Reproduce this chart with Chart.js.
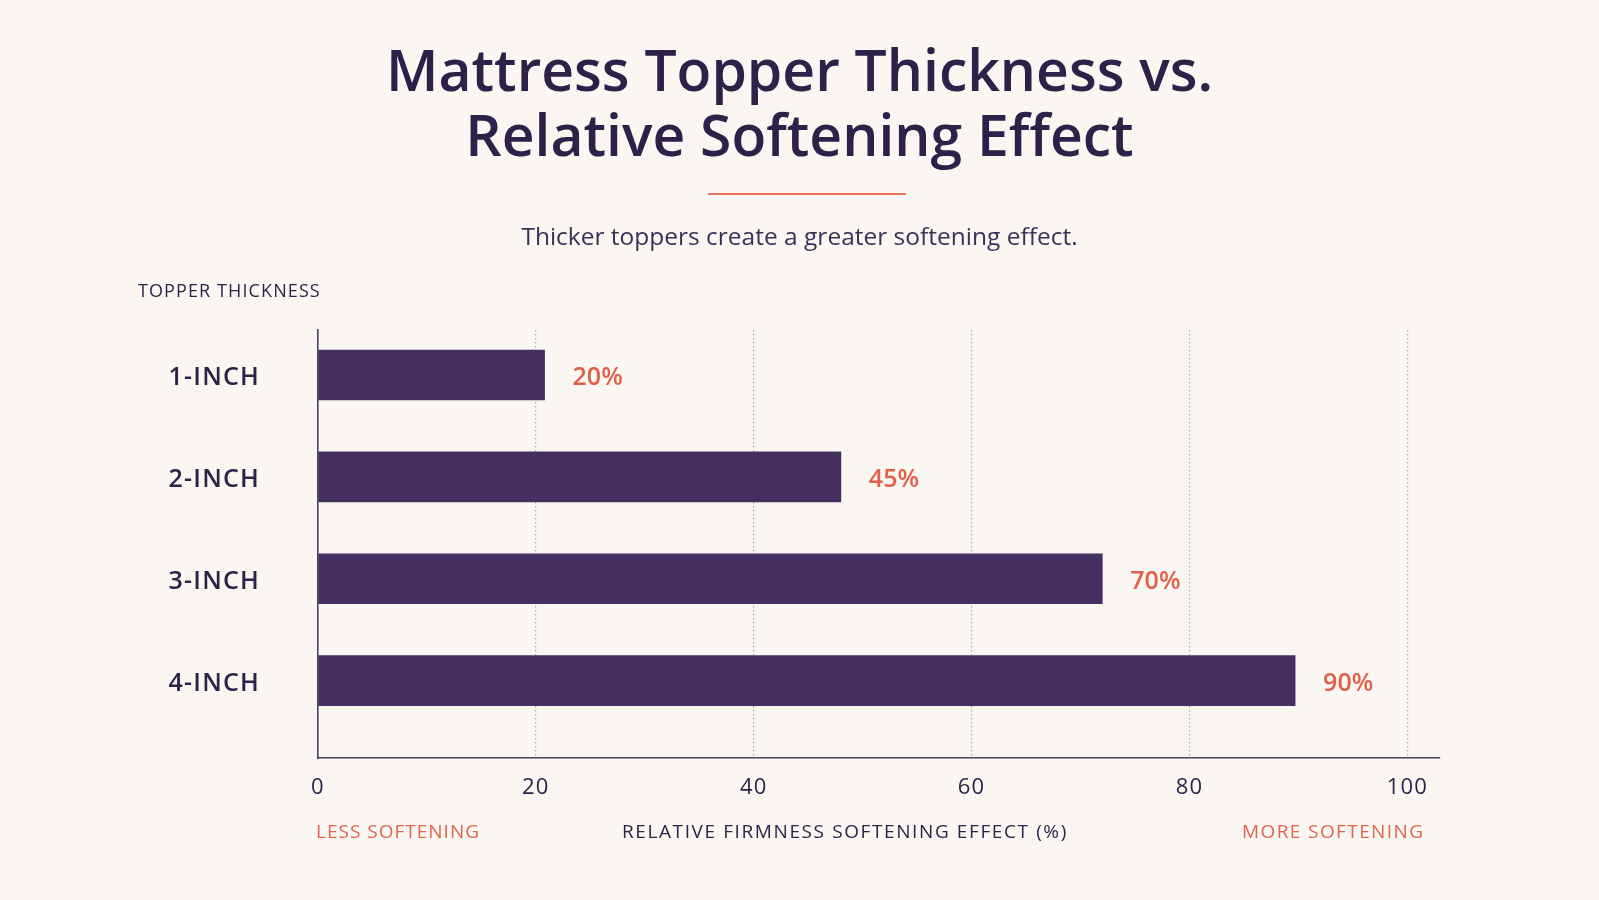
<!DOCTYPE html>
<html>
<head>
<meta charset="utf-8">
<script src="https://cdn.jsdelivr.net/npm/chart.js@4.4.1/dist/chart.umd.min.js"></script>
<style>
  html, body { margin: 0; padding: 0; background: #faf7f2; }
  body { width: 1599px; height: 900px; position: relative; overflow: hidden; font-family: "Open Sans", Lato, sans-serif; }
  #wrap { position: absolute; left: 0; top: 0; width: 1599px; height: 900px; }
  .t { position: absolute; white-space: nowrap; line-height: 1; }
  #title { left: 0; width: 1599px; top: 37px; text-align: center; font-size: 57px; font-weight: 600; color: #2c2249; line-height: 65px; }
  #rule { position: absolute; left: 708px; top: 193px; width: 198px; height: 2px; background: #e8735a; }
  #sub { left: 0; width: 1599px; top: 224px; text-align: center; font-size: 24.5px; color: #3a3157; }
  #ylab { left: 138px; top: 281px; font-size: 18px; letter-spacing: 1.1px; color: #2b2447; }
  #less { left: 316px; top: 822px; font-size: 19px; letter-spacing: 1px; color: #e2644c; }
  #xtitle { left: 622px; top: 822px; font-size: 19px; letter-spacing: 1.6px; color: #2b2447; }
  #more { left: 1242px; top: 822px; font-size: 19px; letter-spacing: 1.4px; color: #e2644c; }
</style>
</head>
<body>
<div id="wrap"><canvas id="c" width="1599" height="900"></canvas></div>
<div class="t" id="title">Mattress Topper Thickness vs.<br>Relative Softening Effect</div>
<div id="rule"></div>
<div class="t" id="sub">Thicker toppers create a greater softening effect.</div>
<div class="t" id="ylab">TOPPER THICKNESS</div>
<div class="t" id="less">LESS SOFTENING</div>
<div class="t" id="xtitle">RELATIVE FIRMNESS SOFTENING EFFECT (%)</div>
<div class="t" id="more">MORE SOFTENING</div>
<script>
const categories = ["1-INCH", "2-INCH", "3-INCH", "4-INCH"];
const softening = [20.8, 48, 72, 89.7];
const valueLabels = ["20%", "45%", "70%", "90%"];
const xTicks = [0, 20, 40, 60, 80, 100];

const INK = '#2b2447';
const BAR = '#442f60';
const ACCENT = '#e2604a';
const FONT = '"Open Sans", Lato, sans-serif';

const spacingPlugin = {
  id: 'spacing',
  beforeDraw(chart) { chart.ctx.letterSpacing = '1.2px'; }
};

const valueLabelPlugin = {
  id: 'valueLabels',
  afterDatasetsDraw(chart) {
    const ctx = chart.ctx;
    const meta = chart.getDatasetMeta(0);
    ctx.save();
    ctx.letterSpacing = '0px';
    ctx.font = '600 25px ' + FONT;
    ctx.fillStyle = ACCENT;
    ctx.textAlign = 'left';
    ctx.textBaseline = 'middle';
    meta.data.forEach((el, i) => {
      ctx.fillText(valueLabels[i], el.x + 28, el.y + 3);
    });
    ctx.restore();
  }
};

new Chart(document.getElementById('c'), {
  type: 'bar',
  data: {
    datasets: [{
      data: softening.map((v, i) => ({ x: v, y: i + 1 })),
      backgroundColor: BAR,
      borderWidth: 0,
      barThickness: 50
    }]
  },
  options: {
    indexAxis: 'y',
    responsive: false,
    animation: false,
    layout: { padding: { top: 330, right: 159, left: 0, bottom: 0 } },
    plugins: { legend: { display: false }, tooltip: { enabled: false } },
    scales: {
      x: {
        type: 'linear',
        min: 0,
        max: 103,
        afterBuildTicks(scale) { scale.ticks = xTicks.map(v => ({ value: v })); },
        afterFit(scale) { scale.height = 142; },
        ticks: {
          color: INK,
          font: { family: FONT, size: 22 },
          padding: 17,
          maxRotation: 0
        },
        grid: {
          drawTicks: false,
          color: ctx => ctx.tick && ctx.tick.value === 0 ? 'rgba(0,0,0,0)' : '#aaa4b0',
          lineWidth: 1.2
        },
        border: { display: true, color: '#4b4163', width: 1.6, dash: [1.5, 2.5] }
      },
      y: {
        type: 'linear',
        reverse: true,
        offset: false,
        min: 0.558,
        max: 4.759,
        afterBuildTicks(scale) { scale.ticks = categories.map((c, i) => ({ value: i + 1 })); },
        afterFit(scale) { scale.width = 318; },
        ticks: {
          color: INK,
          font: { family: FONT, size: 25, weight: '600' },
          padding: 58,
          labelOffset: 3,
          callback: v => categories[v - 1] || ''
        },
        grid: { display: false, drawTicks: false, offset: false },
        border: { display: true, color: '#4b4163', width: 1.6 }
      }
    }
  },
  plugins: [spacingPlugin, valueLabelPlugin]
});
</script>
</body>
</html>
